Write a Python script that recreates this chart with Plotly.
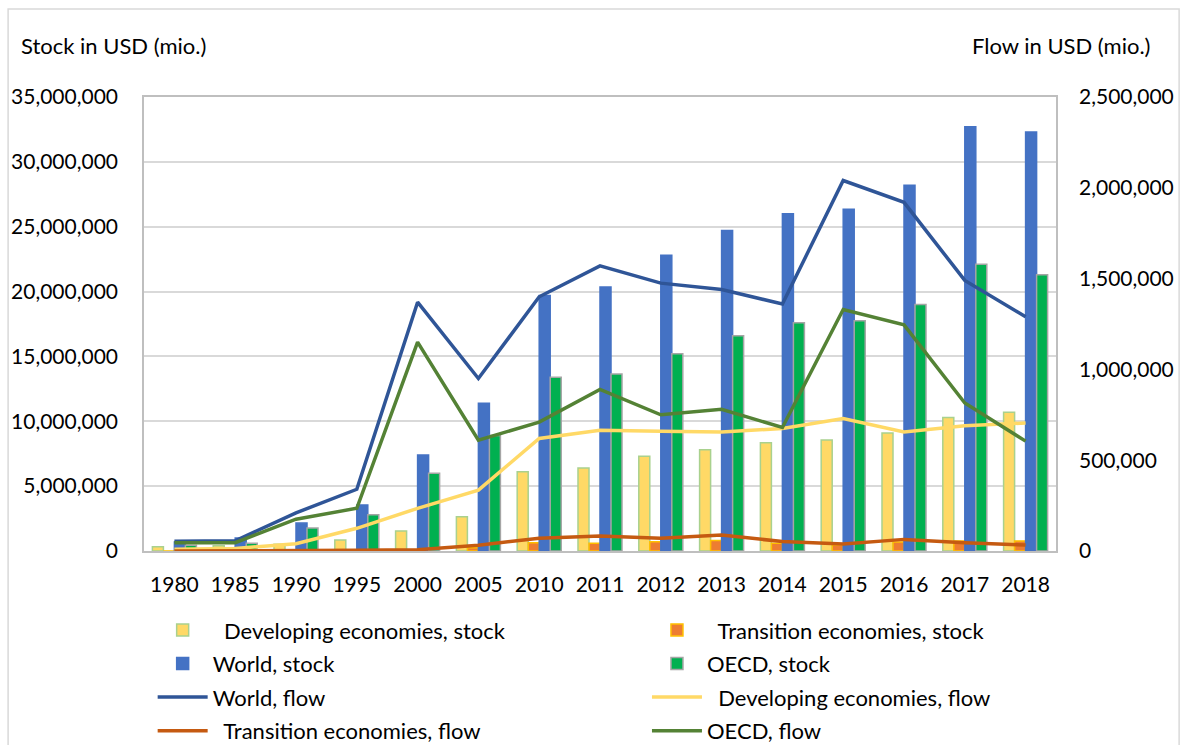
import plotly.graph_objects as go

years = ["1980", "1985", "1990", "1995", "2000", "2005", "2010", "2011",
         "2012", "2013", "2014", "2015", "2016", "2017", "2018"]

# FDI stock, USD millions (left axis)
developing_stock = [330000, 400000, 530000, 850000, 1550000, 2650000, 6100000, 6400000,
                    7300000, 7800000, 8350000, 8550000, 9100000, 10300000, 10700000]
transition_stock = [0, 0, 0, 40000, 70000, 250000, 640000, 600000,
                    720000, 800000, 600000, 470000, 700000, 780000, 780000]
world_stock = [700000, 1000000, 2150000, 3550000, 7400000, 11400000, 19700000, 20350000,
               22800000, 24700000, 26000000, 26350000, 28200000, 32700000, 32300000]
oecd_stock = [450000, 600000, 1770000, 2800000, 6000000, 8900000, 13400000, 13650000,
              15200000, 16600000, 17600000, 17750000, 19000000, 22100000, 21300000]

# FDI flow, USD millions (right axis)
world_flow = [54000, 56000, 210000, 340000, 1370000, 950000, 1400000, 1570000,
              1475000, 1440000, 1360000, 2040000, 1920000, 1490000, 1290000]
developing_flow = [10000, 14000, 40000, 125000, 235000, 335000, 620000, 665000,
                   660000, 655000, 675000, 730000, 655000, 690000, 705000]
transition_flow = [0, 0, 0, 4000, 7000, 32000, 70000, 83000,
                   70000, 88000, 52000, 38000, 64000, 46000, 33000]
oecd_flow = [46000, 46000, 175000, 235000, 1150000, 610000, 710000, 890000,
             750000, 780000, 680000, 1330000, 1245000, 815000, 605000]

FONT = "Lato"
TXT = "#000000"
SP = "\u00a0"

fig = go.Figure()

bar_specs = [
    (SP * 2 + "Developing economies, stock", developing_stock, "#FFD966", "#A9D18E", "legend"),
    (SP * 2 + "Transition economies, stock", transition_stock, "#ED7D31", "#FFC000", "legend2"),
    ("World, stock", world_stock, "#4472C4", "#4472C4", "legend"),
    ("OECD, stock", oecd_stock, "#00B050", "#A5A5A5", "legend2"),
]
for i, (name, vals, fill, edge, lg) in enumerate(bar_specs):
    fig.add_trace(go.Bar(
        x=years, y=vals, name=name, legend=lg, legendgroup=f"b{i}",
        marker=dict(color=fill, line=dict(color=edge, width=1.5)),
        yaxis="y",
    ))

line_specs = [
    ("World, flow", world_flow, "#2F5597", "legend"),
    (SP * 2 + "Developing economies, flow", developing_flow, "#FFD966", "legend2"),
    (SP * 2 + "Transition economies, flow", transition_flow, "#C55A11", "legend"),
    ("OECD, flow", oecd_flow, "#548235", "legend2"),
]
for i, (name, vals, col, lg) in enumerate(line_specs):
    fig.add_trace(go.Scatter(
        x=years, y=vals, name=name, legend=lg, legendgroup=f"l{i}",
        mode="lines", line=dict(color=col, width=3.5),
        yaxis="y2",
    ))

legend_common = dict(
    orientation="v", tracegroupgap=2, bgcolor="rgba(0,0,0,0)",
    font=dict(family=FONT, size=22, color=TXT), itemwidth=50,
    yanchor="top", xanchor="left", traceorder="grouped",
)

fig.update_layout(
    width=1189, height=745,
    margin=dict(l=144, r=133, t=97, b=194, autoexpand=False),
    paper_bgcolor="white", plot_bgcolor="white",
    font=dict(family=FONT, size=21, color=TXT),
    barmode="group", bargap=0.276, bargroupgap=0.0,
    showlegend=True,
    legend=dict(x=0.0095, y=-0.128, **legend_common),
    legend2=dict(x=0.5515, y=-0.128, **legend_common),
    xaxis=dict(
        type="category", showgrid=False, showline=True, linecolor="#BFBFBF",
        linewidth=1.5, mirror=True, ticks="", tickfont=dict(size=21),
        ticklabelstandoff=14,
    ),
    yaxis=dict(
        range=[0, 35000000], dtick=5000000, tickformat=",d",
        showgrid=True, gridcolor="#D9D9D9", gridwidth=1.5,
        showline=True, linecolor="#BFBFBF", linewidth=1.5, mirror=True,
        ticks="", ticklabelstandoff=20, zeroline=False,
    ),
    yaxis2=dict(
        range=[0, 2500000], dtick=500000, tickformat=",d",
        overlaying="y", side="right", showgrid=False,
        showline=False, ticks="", ticklabelstandoff=22, zeroline=False,
    ),
    annotations=[
        dict(text="Stock in USD (mio.)", xref="paper", yref="paper",
             x=-0.137, y=1.114, xanchor="left", yanchor="middle",
             showarrow=False, font=dict(size=22)),
        dict(text="Flow in USD (mio.)", xref="paper", yref="paper",
             x=1.106, y=1.114, xanchor="right", yanchor="middle",
             showarrow=False, font=dict(size=22)),
    ],
    shapes=[
        dict(type="rect", xref="paper", yref="paper",
             x0=-0.149, x1=1.135, y0=-0.5, y1=1.194,
             line=dict(color="#D9D9D9", width=1.5), layer="below"),
    ],
)

fig.write_html("out.html")
